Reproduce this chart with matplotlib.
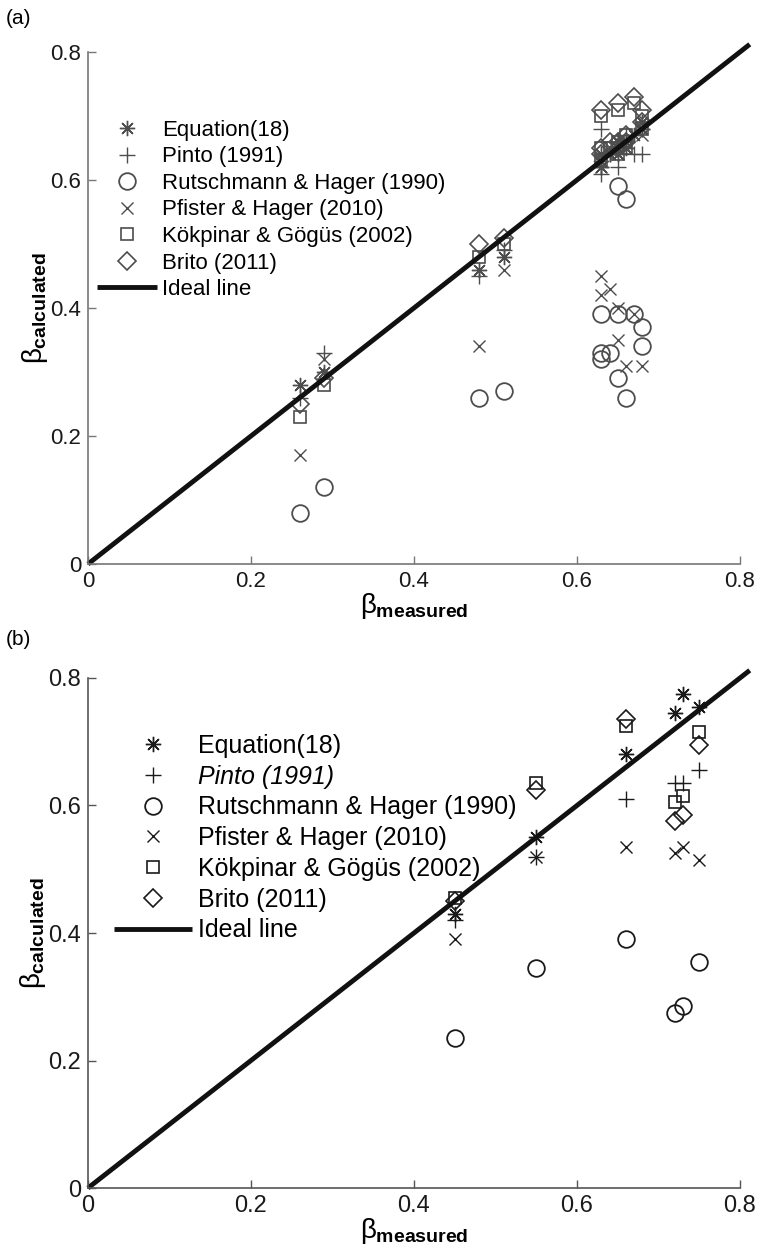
import numpy as np
import matplotlib
matplotlib.use('Agg')
import matplotlib.pyplot as plt

plt.rcParams['font.family'] = ['Liberation Sans', 'DejaVu Sans']
plt.rcParams['mathtext.fontset'] = 'custom'
plt.rcParams['mathtext.rm'] = 'Liberation Sans'
plt.rcParams['mathtext.it'] = 'Liberation Sans'
plt.rcParams['mathtext.bf'] = 'Liberation Sans:bold'

# ====== Data panel (a) ======
a_meas = [0.26, 0.29, 0.48, 0.51,
          0.63, 0.63, 0.63, 0.64, 0.65, 0.65, 0.65, 0.66, 0.66, 0.67, 0.68, 0.68]
a_eq = [0.28, 0.30, 0.46, 0.48,
        0.63, 0.62, 0.64, 0.64, 0.65, 0.66, 0.64, 0.66, 0.65, 0.67, 0.68, 0.69]
a_pinto = [0.26, 0.33, 0.45, 0.49,
           0.68, 0.61, 0.62, 0.64, 0.62, 0.66, 0.65, 0.66, 0.67, 0.64, 0.64, 0.68]
a_rutsch = [0.08, 0.12, 0.26, 0.27,
            0.39, 0.33, 0.32, 0.33, 0.59, 0.39, 0.29, 0.57, 0.26, 0.39, 0.37, 0.34]
a_pfister = [0.17, 0.32, 0.34, 0.46,
             0.45, 0.42, 0.62, 0.43, 0.40, 0.35, 0.64, 0.31, 0.65, 0.39, 0.31, 0.67]
a_kok = [0.23, 0.28, 0.48, 0.50,
         0.70, 0.63, 0.65, 0.65, 0.71, 0.66, 0.64, 0.67, 0.65, 0.72, 0.70, 0.68]
a_brito = [0.25, 0.29, 0.50, 0.51,
           0.71, 0.64, 0.65, 0.66, 0.72, 0.66, 0.65, 0.66, 0.67, 0.73, 0.71, 0.69]

# ====== Data panel (b) ======
b_meas = [0.45, 0.55, 0.66, 0.72, 0.73, 0.75]
b_eq = [0.43, 0.55, 0.68, 0.745, 0.775, 0.755]
b_pinto = [0.42, 0.52, 0.61, 0.635, 0.635, 0.655]
b_rutsch = [0.235, 0.345, 0.39, 0.275, 0.285, 0.355]
b_pfister = [0.39, 0.52, 0.535, 0.525, 0.535, 0.515]
b_kok = [0.455, 0.635, 0.725, 0.605, 0.615, 0.715]
b_brito = [0.45, 0.625, 0.735, 0.575, 0.585, 0.695]

labels = ['Equation(18)', 'Pinto (1991)', 'Rutschmann & Hager (1990)',
          'Pfister & Hager (2010)', 'Kökpinar & Gögüs (2002)', 'Brito (2011)']
ticks = [0, 0.2, 0.4, 0.6, 0.8]
tick_labels = ['0', '0.2', '0.4', '0.6', '0.8']

styles = [dict(marker=(8, 2, 0), ms=11, mew=1.0),
          dict(marker='+', ms=12, mew=1.0),
          dict(marker='o', ms=12, mfc='none', mew=1.3),
          dict(marker='x', ms=8, mew=1.0),
          dict(marker='s', ms=9, mfc='none', mew=1.2),
          dict(marker='D', ms=9, mfc='none', mew=1.2)]


def panel(ax, meas, series, color, spine_col, fs_tick, fs_leg, leg_anchor,
          spacing, hlen):
    for ys, lab, st in zip(series, labels, styles):
        ax.plot(meas, ys, ls='none', color=color, mec=color, label=lab, **st)
    ax.plot([0, 0.812], [0, 0.812], color='#111111', lw=3.5, label='Ideal line',
            clip_on=False, solid_capstyle='butt')
    ax.set_xlim(0, 0.8)
    ax.set_ylim(0, 0.8)
    ax.set_xticks(ticks)
    ax.set_xticklabels(tick_labels)
    ax.set_yticks(ticks)
    ax.set_yticklabels(tick_labels)
    for s in ['top', 'right']:
        ax.spines[s].set_visible(False)
    for s in ['left', 'bottom']:
        ax.spines[s].set_color(spine_col)
        ax.spines[s].set_linewidth(1.2)
    ax.tick_params(direction='in', length=6, width=1, colors=spine_col,
                   labelcolor='#1a1a1a', labelsize=fs_tick, pad=5)
    ax.set_xlabel(r'$\beta_{\mathbf{measured}}$', fontsize=20, labelpad=-1)
    ax.set_ylabel(r'$\beta_{\mathbf{calculated}}$', fontsize=20, labelpad=0)
    leg = ax.legend(loc='upper left', bbox_to_anchor=leg_anchor, frameon=False,
                    fontsize=fs_leg, handlelength=hlen, handletextpad=0.25,
                    labelspacing=spacing, borderaxespad=0)
    return leg


fig = plt.figure(figsize=(7.63, 12.47), dpi=100)
ax1 = fig.add_axes([0.1153, 0.5477, 0.8545, 0.4106])
ax2 = fig.add_axes([0.1153, 0.0473, 0.8545, 0.4090])

panel(ax1, a_meas, [a_eq, a_pinto, a_rutsch, a_pfister, a_kok, a_brito],
      '#4d4d4d', '#777777', 16, 16, (0.0, 0.885), 0.25, 2.7)
leg2 = panel(ax2, b_meas, [b_eq, b_pinto, b_rutsch, b_pfister, b_kok, b_brito],
             '#1a1a1a', '#555555', 17, 18, (0.025, 0.91), 0.27, 3.1)
leg2.get_texts()[1].set_style('italic')

fig.text(0.008, 0.985, '(a)', fontsize=15, va='center')
fig.text(0.008, 0.487, '(b)', fontsize=15, va='center')

fig.savefig('out.png', dpi=100)
